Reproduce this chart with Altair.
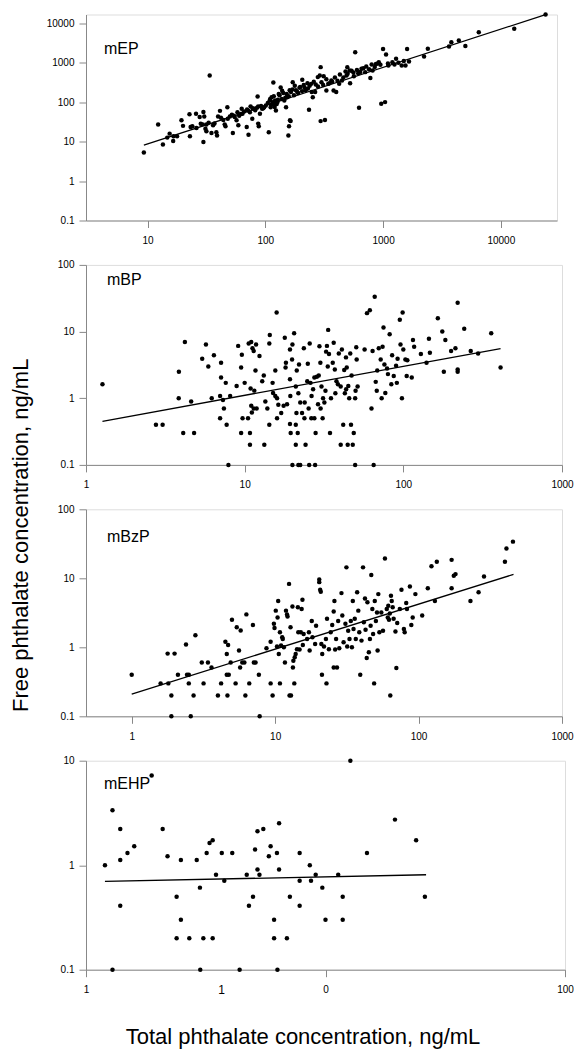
import altair as alt
import pandas as pd

FONT = "Liberation Sans"

# ---------------- mEP ----------------
mep_total = [9.3, 12.3, 13.5, 14.7, 15.4, 16.5, 16.6, 17.8, 19.4, 22.7, 22.9, 23.2, 24, 25.8, 27.7, 28.3, 29.4,
             29.8, 29.8, 30.3, 31, 31.6, 33.7, 31.6, 34.9, 37, 38.4, 38.9, 39.7, 41.2, 45.2, 45.9, 47.6, 50, 53,
             54, 57, 59, 60, 63, 64, 69.5, 71.5, 72, 75, 77.5, 80, 86, 87, 87, 88, 90, 94, 97.7, 101, 107, 109,
             111, 113, 117, 117, 121, 123, 127, 130, 135, 139, 145, 150, 153, 157, 159, 162, 164, 161, 171, 178,
             187, 195, 206, 215, 230, 235, 245, 253, 265, 279, 290, 295, 295, 313, 321, 330, 342, 364, 380, 400,
             424, 448, 490, 497, 520, 525, 565, 580, 615, 625, 656, 705, 780, 815, 870, 920, 965, 1000, 1040,
             1060, 1110, 1200, 1290, 1440, 1550, 1600, 1660, 2230, 2400, 3630, 3800, 4400, 5000, 6500, 13000,
             24000,
             105, 110, 112, 115, 118, 120, 125, 128, 132, 138, 142, 148, 152, 158, 165, 170, 175, 182, 190, 198,
             205, 212, 220, 228, 238, 248, 258, 268, 280, 300, 310, 330, 350, 370, 390, 410, 430, 460, 480, 500,
             540, 560, 600, 640, 680, 720, 760, 800, 850, 900, 950, 1100, 1250, 1350, 1500,
             42, 44, 48, 52, 55, 58, 62, 66, 70, 74, 78, 82, 85, 92, 96, 20, 26, 33, 36]
mep_free = [5.3, 27, 8.4, 12.6, 15.9, 10.4, 13.6, 13.6, 34.6, 49, 13.6, 23.5, 24.5, 51, 42, 28.4, 27.3,
            9.8, 56, 43, 21, 27, 470, 18.3, 16.5, 28.8, 17.3, 14.3, 43, 60, 27.3, 24.5, 74, 43, 16.5,
            45, 34.6, 26, 45, 68, 51, 23.5, 61, 14.8, 78, 37.7, 68, 139, 78, 28.5, 24.5, 51, 68, 74, 82, 17.3, 110,
            74, 133, 315, 91, 110, 61, 100, 160, 235, 195, 110, 74, 133, 14.3, 24.5, 34.6, 33, 200, 320, 260,
            180, 230, 367, 230, 220, 64, 290, 133, 180, 430, 473, 770, 33, 450, 35, 197, 290, 355, 197, 180,
            290, 355, 473, 770, 630, 300, 450, 1845, 540, 72, 700, 575, 410, 630, 930, 1020, 91, 2230, 100,
            1600, 850, 1020, 1250, 850, 850, 2230, 1070, 1430, 2240, 2580, 3300, 3650, 2650, 5900, 7200,
            16500,
            95, 120, 85, 100, 140, 75, 90, 115, 150, 120, 170, 130, 160, 140, 180, 210, 150, 200, 170, 240,
            190, 270, 200, 300, 260, 180, 330, 280, 250, 320, 270, 380, 300, 330, 420, 350, 500, 420, 600, 520,
            620, 560, 650, 580, 720, 800, 680, 900, 780, 950, 880, 950, 900, 1000, 1100,
            40, 35, 38, 48, 42, 55, 50, 58, 65, 55, 70, 62, 72, 80, 70, 25, 22, 30, 26]
mep_fit_total = [9.3, 24000]
mep_fit_free = [8.1, 16500]

# ---------------- mBP ----------------
mbp_total = [1.27, 2.76, 3.04, 3.84, 3.85, 4.1, 4.2, 4.6, 4.8, 5.4, 5.7, 5.9, 6.2, 6.4, 7.0, 7.0, 7.1, 7.1, 7.3,
             7.4, 7.6, 7.7, 7.9, 8.1, 8.9, 9.1, 9.5, 9.5, 9.6, 9.7, 10.0, 10.5, 10.6, 10.8, 10.8, 10.9, 11, 11,
             11.1, 11.2, 11.4, 11.4, 11.5, 11.7, 11.8, 11.9, 12.4, 12.9, 13.2, 13.3, 13.5, 13.9, 14.3, 14.3,
             14.4, 15, 15.1, 15.6, 15.6, 15.9, 16, 16, 16.3, 17, 17.6, 17.9, 18.1, 18.2, 18.5, 19.3, 19.3, 19.3,
             19.4, 19.5, 19.9, 20, 20, 20.5, 21, 21, 21, 21.2, 21.3, 21.6, 21.8, 21.8, 22, 22.4, 22.4, 23, 23.6,
             23.8, 23.9, 24.2, 24.8, 25, 25.3, 25.5, 25.7, 26, 26.3, 26.4, 27, 27.5, 27.5, 27.8, 28, 28.5, 29,
             29.3, 29.6, 30, 30.1, 30.5, 31, 31.2, 31.8, 32.3, 32.6, 33, 33.4, 33.6, 34, 34.5, 35, 35.9, 36.4,
             37, 37.3, 37.9, 38.7, 39.2, 40.3, 40.3, 41, 41.8, 42.4, 42.8, 43.5, 43.6, 44, 44.6, 45, 45.6, 46.3,
             46.8, 47.2, 48, 48.7, 49.7, 49.7, 50, 50.5, 50.8, 51.5, 57, 59, 61.5, 63, 64, 65, 66, 67, 68, 68.5,
             70, 72, 73, 74, 75, 76, 77, 79, 80, 82, 84, 85, 87, 90, 91, 92, 95, 96, 98, 99, 100, 103, 105, 106,
             113, 115, 117, 129, 140, 145, 147, 165, 176, 180, 184, 200, 213, 220, 220, 220, 242, 266, 296, 358,
             410]
mbp_free = [1.62, 0.4, 0.4, 1.0, 2.5, 0.3, 7.0, 0.89, 0.3, 3.9, 6.4, 3.0, 1.0, 4.4, 1.08, 0.5, 3.4, 2.04, 0.94,
            0.7, 1.7, 0.4, 0.1, 1.08, 1.53, 6.1, 0.3, 2.9, 4.5, 0.5, 1.7, 0.5, 6.6, 0.3, 0.2, 1.4, 7.0, 0.77,
            0.61, 5.6, 5.1, 0.7, 1.3, 2.6, 6.4, 0.7, 4.3, 1.8, 2.2, 0.2, 0.89, 0.7, 6.6, 0.4,
            8.9, 1.7, 1.2, 1.08, 2.6, 19.3, 0.5, 1.0, 0.8, 0.6, 0.77, 8.1, 2.9, 3.4, 0.81, 0.41, 1.93, 5.4,
            1.08, 0.3, 3.8, 6.4, 0.1, 9.4, 1.5, 0.2, 0.4, 0.6, 2.6, 0.3, 1.19, 0.1, 3.2, 0.1, 0.86, 0.6, 5.6,
            0.5, 0.86, 0.2, 1.8, 3.3, 0.7, 0.1, 6.6, 1.7, 0.5, 1.08, 1.36, 2.04, 0.5, 0.1, 0.3, 2.1, 0.81,
            2.2, 6.0, 3.4, 0.7, 1.5, 0.5, 1.0, 0.86, 1.29, 5.0, 6.1, 3.0, 10.6, 4.6, 0.3, 1.0, 3.4, 6.8,
            2.7, 1.19, 1.8, 1.62, 4.7, 0.2, 1.5, 5.4, 0.4, 2.66, 1.19, 4.1, 1.36, 2.9, 0.2, 1.53, 1.0, 4.7,
            0.4, 2.2, 0.2, 0.3, 0.1, 1.0, 1.29, 5.8, 3.8, 1.5, 5.4, 18.9, 20.9, 0.7, 5.1, 0.1, 33.3, 1.76, 1.29, 2.6,
            5.6, 3.8, 1.0, 5.9, 11.5, 3.2, 1.2, 2.8, 2.3, 9.1, 1.62, 4.4, 2.16, 3.06, 1.7, 3.9, 15, 6.4, 1.0, 19.3, 5.4, 3.8, 2.16, 3.7,
            2.04, 7.5, 5.9, 4.6, 3.4, 7.8, 4.8, 15.8, 10, 2.5, 7.5, 5.1, 5.6, 27, 2.7, 2.5, 11, 5.1, 4.7, 9.4,
            2.9]
mbp_fit_total = [1.27, 410]
mbp_fit_free = [0.45, 5.56]

# ---------------- mBzP ----------------
mbzp_total = [1.0, 1.59, 1.78, 1.8, 1.89, 1.89, 1.99, 2.1, 2.39, 2.43, 2.5, 2.5, 2.58, 2.7, 2.78, 3.08, 3.17,
              3.4, 3.6, 3.99, 4.2, 4.5, 4.6, 4.6, 4.65, 4.7, 4.75, 4.9, 5.0, 5.3, 5.4, 5.6, 5.7, 5.75, 5.9, 6.1,
              6.2, 6.3, 6.6, 7.0, 7.1, 7.3, 7.7, 7.8, 8.7, 9.3, 9.3, 9.6, 9.8, 9.9, 10.1, 10.3, 10.4, 10.5,
              10.6, 10.8, 10.8, 11, 11.2, 11.3, 11.5, 11.7, 11.9, 12.1, 12.2, 12.5, 12.6, 12.8, 12.9, 13.2,
              13.3, 13.4, 13.6, 13.7, 13.9, 14.2, 14.4, 14.5, 14.8, 15.1, 15.3, 15.5, 15.6, 15.8, 16.7, 17.2,
              17.4, 18, 18.2, 19, 19.3, 20.3, 20.3, 20.6, 20.8, 21, 21.2, 21.3, 21.9, 22.6, 22.8, 23, 23.7, 24.4,
              25, 25.6, 25.6, 25.9, 26.2, 26.6, 27, 27.5, 28, 29, 29.4, 30, 30.9, 31.4, 31.8, 32.3, 33, 33.7,
              34.3, 34.8, 35.2, 35.9, 36.5, 37.3, 38, 38.6, 39.2, 40, 41, 41.5, 42.3, 42.7, 43.5, 44, 45, 45.8,
              46.3, 46.8, 47.6, 48.2, 49, 49.5, 50.4, 51.3, 51.8, 52.4, 53.3, 55, 56.5, 58.3, 60, 61, 61.5, 62.2,
              63, 63.5, 64.2, 65, 66, 67, 69, 70, 71, 74, 76, 79, 80, 82, 83, 87, 89, 91, 95, 106, 116, 123, 130,
              134, 170, 170, 176, 181, 230, 262, 286, 400, 410, 455]
mbzp_free = [0.4, 0.3, 0.81, 0.3, 0.2, 0.1, 0.81, 0.4, 1.1, 0.4, 0.4, 0.3, 0.1, 0.2, 1.5, 0.6, 0.3,
             0.6, 0.51, 0.2, 0.3, 1.2, 0.4, 0.8, 0.2, 1.08, 0.4, 0.6, 2.5, 0.3, 1.95, 0.9, 0.51, 1.75, 0.6, 0.6,
             0.2, 3.0, 0.3, 2.1, 0.6, 0.6, 0.4, 0.1, 0.97, 0.3, 1.2, 0.2, 2.2, 1.9, 3.4, 1.03, 2.7, 4.7,
             0.8, 0.3, 1.65, 1.06, 1.4, 1.32, 1.0, 0.6, 3.4, 3.0, 2.8, 8.3, 0.2, 1.95, 0.2, 3.9,
             0.51, 0.64, 0.3, 0.72, 0.8, 0.94, 3.8, 1.65, 0.93, 1.65, 3.6, 4.9, 1.08, 1.56, 1.32, 1.65,
             0.9, 2.4, 1.4, 1.12, 2.06, 9.6, 8.8, 6.8, 6.4, 1.12, 0.4, 0.8, 1.03, 1.32, 0.3, 2.6, 0.94, 1.65,
             2.1, 0.51, 3.3, 4.7, 0.93, 1.32, 0.51, 2.4, 0.97, 6.1, 2.9, 1.18, 2.2, 14.4, 1.03, 1.74, 1.32, 2.4,
             1.0, 4.7, 1.84, 2.6, 1.32, 6.3, 3.4, 1.65, 0.4, 1.25, 14.4, 2.3, 5.1, 1.8, 0.7, 4.5, 0.85, 1.32,
             2.06, 11.2, 3.6, 1.56, 0.3, 4.7, 2.4, 3.2, 0.9, 5.9, 1.65, 3.2, 1.74, 19.3, 3.6, 2.7, 4.0, 2.5,
             3.1, 0.2, 5.6, 4.7, 3.8, 2.6, 1.7, 0.5, 2.25, 3.6, 6.8, 1.84, 1.65, 4.4, 3.6, 7.6, 2.1, 2.7, 5.9, 2.9, 7.2, 14.9, 4.7,
             17.4, 18.5, 7.2, 10.9, 11.5, 4.7, 6.3, 10.6, 17.4, 27, 34]
mbzp_fit_total = [1.0, 459]
mbzp_fit_free = [0.21, 11.4]

# ---------------- mEHP ----------------
mehp_total = [1.2, 1.29, 1.29, 1.39, 1.39, 1.39, 1.49, 1.59, 1.88, 2.09, 2.19, 2.39, 2.39, 2.49, 2.49, 2.7,
              2.9, 2.99, 3.0, 3.09, 3.19, 3.28, 3.38, 3.38, 3.49, 3.69, 3.78, 4.08, 4.38, 4.69, 4.79, 4.98,
              5.08, 5.2, 5.2, 5.3, 5.5, 5.8, 5.9, 6.1, 6.1, 6.27, 6.3, 6.4, 6.4, 6.9, 7.1, 7.8, 7.8, 7.8, 8.6,
              8.7, 9.1, 9.7, 10, 11.3, 11.8, 11.8, 12.7, 14.9, 19.5, 23.9, 26]
mehp_free = [1.0, 3.35, 0.1, 2.22, 1.12, 0.41, 1.31, 1.52, 7.2, 2.22, 1.22, 0.5, 0.2, 1.12, 0.3, 0.2,
             1.12, 0.61, 0.1, 0.2, 1.31, 1.63, 1.73, 0.2, 0.81, 1.31, 0.71, 1.31, 0.1, 0.81, 0.41, 0.5,
             1.41, 0.91, 2.11, 0.81, 2.22, 1.22, 1.52, 0.3, 0.2, 1.31, 0.1, 2.52, 0.91, 0.2, 0.5, 1.31, 0.71, 0.41, 1.0,
             0.71, 0.81, 0.61, 0.3, 0.81, 0.5, 0.3, 10, 1.31, 2.73, 1.73, 0.5]
mehp_fit_total = [1.2, 26.3]
mehp_fit_free = [0.70, 0.81]
mehp_xtick_values = [1, 10, 100]
mehp_stray_label_pos = [3.68]
mehp_stray_label_text = ["1"]

y_title = "Free phthalate concentration, ng/mL"
x_title = "Total phthalate concentration, ng/mL"


def panel(total, free, fit_t, fit_f, name, xdom, ydom, xticks, yticks, w, h, lab_x, lab_y,
          label_expr=None, extra=()):
    xsc = alt.Scale(type="log", domain=xdom, nice=False)
    ysc = alt.Scale(type="log", domain=ydom, nice=False)
    xkw = dict(values=xticks, title=None, labelFlush=False, labelOverlap=False, format="~g",
               grid=False, tickSize=7, labelPadding=8)
    if label_expr:
        xkw["labelExpr"] = label_expr
    xax = alt.Axis(**xkw)
    yax = alt.Axis(values=yticks, title=None, labelOverlap=False, format="~g", grid=False,
                   tickSize=7, labelPadding=5)
    pts = alt.Chart(pd.DataFrame({"total": total, "free": free})).mark_circle(
        size=20, color="black", opacity=1).encode(
        x=alt.X("total:Q", scale=xsc, axis=xax),
        y=alt.Y("free:Q", scale=ysc, axis=yax))
    line = alt.Chart(pd.DataFrame({"total": fit_t, "free": fit_f})).mark_line(
        color="black", strokeWidth=1.3).encode(x="total:Q", y="free:Q")
    lab = alt.Chart(pd.DataFrame({"name": [name]})).mark_text(
        align="left", baseline="alphabetic", fontSize=16, font=FONT, color="black").encode(
        text="name:N", x=alt.value(lab_x), y=alt.value(lab_y))
    return alt.layer(pts, line, lab, *extra).properties(width=w, height=h)


# y title (placed next to the mBzP panel)
ytitle = alt.Chart(pd.DataFrame({"t": [y_title]})).mark_text(
    angle=270, align="center", baseline="alphabetic", fontSize=22, font=FONT, color="black").encode(
    text="t:N", x=alt.value(-58), y=alt.value(26))

# x title (below the mEHP panel)
xtitle = alt.Chart(pd.DataFrame({"t": [x_title]})).mark_text(
    align="center", baseline="alphabetic", fontSize=22, font=FONT, color="black").encode(
    text="t:N", x=alt.value(217), y=alt.value(283))

stray = alt.Chart(pd.DataFrame({"total": mehp_stray_label_pos, "s": mehp_stray_label_text})).mark_text(
    align="center", baseline="top", fontSize=12, font=FONT, color="black").encode(
    text="s:N", x="total:Q", y=alt.value(209 + 7 + 8))

p1 = panel(mep_total, mep_free, mep_fit_total, mep_fit_free, "mEP", [3, 30000], [0.1, 16600],
           [10, 100, 1000, 10000], [0.1, 1, 10, 100, 1000, 10000], 471, 206, 18, 39)
p2 = panel(mbp_total, mbp_free, mbp_fit_total, mbp_fit_free, "mBP", [1, 1000], [0.1, 100],
           [1, 10, 100, 1000], [0.1, 1, 10, 100], 476, 200, 21, 20)
p3 = panel(mbzp_total, mbzp_free, mbzp_fit_total, mbzp_fit_free, "mBzP", [0.48, 1000], [0.1, 100],
           [1, 10, 100, 1000], [0.1, 1, 10, 100], 476, 207, 21, 33, extra=(ytitle,))
p4 = panel(mehp_total, mehp_free, mehp_fit_total, mehp_fit_free, "mEHP", [1, 100], [0.1, 10],
           mehp_xtick_values, [0.1, 1, 10], 479, 209, 18, 28,
           label_expr="datum.value == 10 ? '0' : datum.label", extra=(stray, xtitle))

chart = alt.vconcat(p1, p2, p3, p4, spacing=44.4, bounds="flush").properties(
    padding={"left": 9, "top": 11.5, "right": 0, "bottom": 1.5}
).configure_view(stroke="black", strokeWidth=1.2).configure_axis(
    domainColor="black", domainWidth=1.2, tickColor="black", tickWidth=1.2,
    labelColor="black", labelFont=FONT, labelFontSize=12
).configure(background="white")

chart.save("out.html", embed_options={"renderer": "svg", "actions": False})
